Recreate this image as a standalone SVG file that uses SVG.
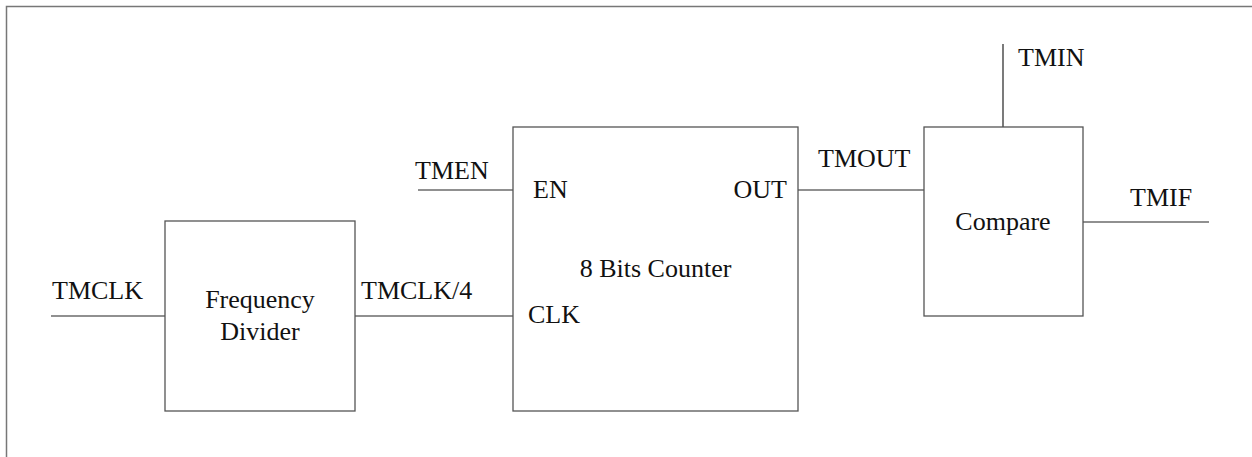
<svg xmlns="http://www.w3.org/2000/svg" width="1252" height="457" viewBox="0 0 1252 457">
<style>
.bx{fill:#fff;stroke:#555;stroke-width:1.3}
.ln{fill:none;stroke:#222;stroke-width:1.2}
.frame{fill:none;stroke:#777;stroke-width:1.5}
text{font-family:"Liberation Serif","Times New Roman",serif;font-size:26px;fill:#111}
.m{text-anchor:middle}
.e{text-anchor:end}
</style>
<rect id="frame" class="frame" x="6.5" y="6.5" width="1260" height="470"/>
<g id="connectors">
<line class="ln" x1="51" y1="316" x2="165" y2="316"/>
<line class="ln" x1="355" y1="316" x2="513" y2="316"/>
<line class="ln" x1="418" y1="190" x2="513" y2="190"/>
<line class="ln" x1="798" y1="190" x2="924" y2="190"/>
<line class="ln" x1="1003" y1="44" x2="1003" y2="127"/>
<line class="ln" x1="1083" y1="222" x2="1209" y2="222"/>
<text x="52" y="299">TMCLK</text>
<text x="361" y="299">TMCLK/4</text>
<text x="415" y="179">TMEN</text>
<text x="818" y="167">TMOUT</text>
<text x="1018" y="66">TMIN</text>
<text x="1130" y="206">TMIF</text>
</g>
<g id="divider">
<rect class="bx" x="165" y="221" width="190" height="190"/>
<text class="m" x="260" y="308">Frequency</text>
<text class="m" x="260" y="340">Divider</text>
</g>
<g id="counter">
<rect class="bx" x="513" y="127" width="285" height="284"/>
<text x="533" y="198">EN</text>
<text class="e" x="787" y="198">OUT</text>
<text class="m" x="655.5" y="277">8 Bits Counter</text>
<text x="528" y="323">CLK</text>
</g>
<g id="compare">
<rect class="bx" x="924" y="127" width="159" height="189"/>
<text class="m" x="1003" y="230">Compare</text>
</g>
</svg>
